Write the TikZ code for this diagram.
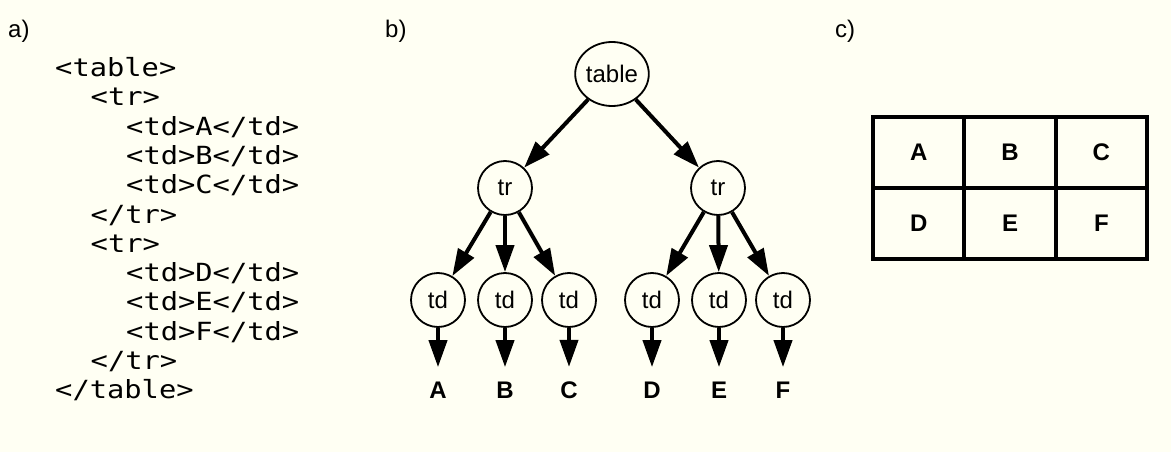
\documentclass[tikz,border=0pt]{standalone}
\usepackage{fontspec}
\setmainfont{Liberation Sans}
\newfontfamily\codefont[FakeStretch=1.15]{DejaVu Sans Mono}
\usetikzlibrary{arrows.meta, shapes.geometric}
\definecolor{paper}{RGB}{255,255,243}

\begin{document}
\begin{tikzpicture}[
  x=1pt, y=-1pt,
  panel/.style={anchor=base west, inner sep=0pt, font=\fontsize{24}{28}\selectfont},
  codeline/.style={anchor=base west, inner sep=0pt, font=\codefont\fontsize{25}{30}\selectfont},
  elem/.style={draw, circle, line width=1.8pt, minimum size=54pt, inner sep=0pt,
               font=\fontsize{24}{28}\selectfont},
  rootb/.style={draw, ellipse, line width=1.8pt, minimum width=73pt, minimum height=64pt,
                inner sep=0pt, font=\fontsize{24}{28}\selectfont},
  leaf/.style={inner xsep=2pt, inner ysep=14.4pt, font=\bfseries\fontsize{24}{28}\selectfont},
  cell/.style={draw, line width=4pt, minimum width=91.33pt, minimum height=71pt,
               inner sep=0pt, font=\bfseries\fontsize{24}{28}\selectfont},
  arr/.style={-{Triangle[width=18pt, length=27pt]}, line width=4pt},
]
% Background and page size
\fill[paper] (0,0) rectangle (1171,452);
\useasboundingbox (0,0) rectangle (1171,452);

% Panel labels
\node[panel] (pa) at (8,38)   {a)};
\node[panel] (pb) at (385,38) {b)};
\node[panel] (pc) at (835,38) {c)};

% a) HTML source
\foreach \lvl/\txt [count=\k from 0] in {
    0/{<table>}, 1/{<tr>}, 2/{<td>A</td>}, 2/{<td>B</td>}, 2/{<td>C</td>}, 1/{</tr>},
    1/{<tr>}, 2/{<td>D</td>}, 2/{<td>E</td>}, 2/{<td>F</td>}, 1/{</tr>}, 0/{</table>}}
  \node[codeline] (code\k) at ({55+35.5*\lvl}, {76.5+29.3*\k}) {\txt};

% b) DOM tree
\node[rootb] (table) at (612,74) {table};
\node[elem] (tr1) at (505,188) {tr};
\node[elem] (tr2) at (718,188) {tr};

\node[elem] (td1) at (438,300) {td};
\node[elem] (td2) at (505,300) {td};
\node[elem] (td3) at (569,300) {td};
\node[elem] (td4) at (652,300) {td};
\node[elem] (td5) at (719,300) {td};
\node[elem] (td6) at (783,300) {td};

\node[leaf] (lA) at (438,390) {A};
\node[leaf] (lB) at (505,390) {B};
\node[leaf] (lC) at (569,390) {C};
\node[leaf] (lD) at (652,390) {D};
\node[leaf] (lE) at (719,390) {E};
\node[leaf] (lF) at (783,390) {F};

% Arrows
\draw[arr] (table) -- (tr1);
\draw[arr] (table) -- (tr2);
\foreach \t in {1,2,3} \draw[arr] (tr1) -- (td\t);
\foreach \t in {4,5,6} \draw[arr] (tr2) -- (td\t);
\foreach \t/\l in {1/A,2/B,3/C,4/D,5/E,6/F} \draw[arr] (td\t) -- (l\l);

% c) Rendered table
\node[cell] (cA) at (918.67,152.5) {A};
\node[cell] (cB) at (1010,152.5)   {B};
\node[cell] (cC) at (1101.33,152.5) {C};
\node[cell] (cD) at (918.67,223.5) {D};
\node[cell] (cE) at (1010,223.5)   {E};
\node[cell] (cF) at (1101.33,223.5) {F};
\end{tikzpicture}
\end{document}
